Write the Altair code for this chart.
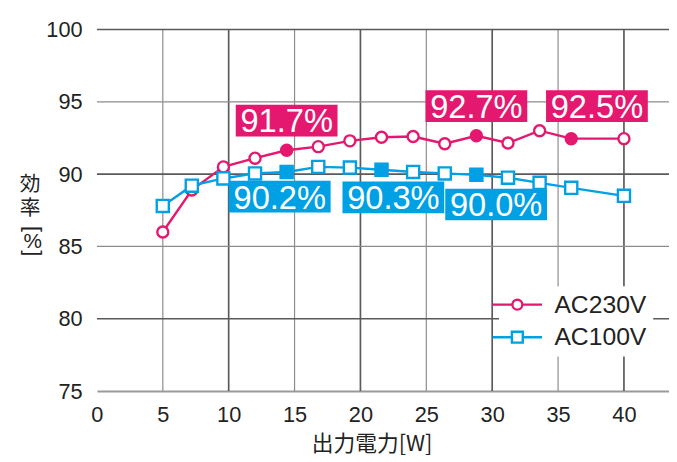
import altair as alt
import pandas as pd

# ---------------- data ----------------
watts = [5, 7.2, 9.6, 12, 14.4, 16.8, 19.2, 21.6, 24, 26.4, 28.8, 31.2, 33.6, 36, 40]
eff_ac230 = [86.0, 88.9, 90.5, 91.1, 91.65, 91.9, 92.3, 92.55, 92.6, 92.1, 92.65, 92.15, 93.0, 92.45, 92.45]
eff_ac100 = [87.8, 89.2, 89.7, 90.05, 90.15, 90.5, 90.45, 90.3, 90.15, 90.05, 89.95, 89.75, 89.4, 89.05, 88.5]
series_names = ["AC230V", "AC100V"]
hl_ac230 = [4, 10, 13]
lbl_ac230 = ["91.7%", "92.7%", "92.5%"]
hl_ac100 = [4, 7, 10]
lbl_ac100 = ["90.2%", "90.3%", "90.0%"]
x_ticks = [0, 5, 10, 15, 20, 25, 30, 35, 40]
y_ticks = [75, 80, 85, 90, 95, 100]
x_grid_major = [10, 20, 30, 40]
x_grid_minor = [5, 15, 25, 35]
y_grid_major = [80, 90, 100]
y_grid_minor = [85, 95]
x_title = "出力電力[W]"
y_title_chars = ["効", "率"]
y_title_unit = ["[", "%", "]"]

# ---------------- styles ----------------
PINK = "#E4186E"
BLUE = "#00A0E4"
LATIN = "Liberation Sans"
CJK = "Noto Sans CJK JP"
CJK_TIGHT = "Liberation Sans, Noto Sans CJK JP"
W, H = 579, 366
XMAX = 43.42
BOX_PATH = "M-1,-0.311 L1,-0.311 L1,0.311 L-1,0.311 Z"
BOX_SIZE = 103 * 103
LEG_CIRCLE = "M-2.5,0 L-0.5,0 M0.5,0 L2.5,0 M-0.5,0 A0.5,0.5,0,1,1,0.5,0 A0.5,0.5,0,1,1,-0.5,0 Z"
LEG_SQUARE = "M-2.5,0 L-0.55,0 M0.55,0 L2.5,0 M-0.55,-0.55 L0.55,-0.55 L0.55,0.55 L-0.55,0.55 Z"
# label box centre offsets (px) from the highlighted point
off_ac230 = [(0, -30), (0, -30), (26, -33)]
off_ac100 = [(-7, 25), (12, 28), (20, 30)]

xscale = alt.Scale(domain=[0, XMAX], nice=False, zero=False)
yscale = alt.Scale(domain=[75, 100], nice=False, zero=False)
cscale = alt.Scale(domain=series_names, range=[PINK, BLUE])

xaxis = alt.Axis(values=x_ticks, grid=False, ticks=False, tickSize=0, domain=True,
                 domainColor="#9a9a9a", domainWidth=2, labelFont=LATIN, labelFontSize=22,
                 labelColor="#222222", labelPadding=14, labelFlush=False, title=x_title,
                 titleFont=CJK, titleFontSize=22, titleFontWeight="normal", titleColor="#222222",
                 titleX=278, titleY=60, titleBaseline="alphabetic", titleAnchor="start",
                 titleAlign="center")
yaxis = alt.Axis(values=y_ticks, grid=False, ticks=False, tickSize=0, domain=False,
                 labelFont=LATIN, labelFontSize=22, labelColor="#222222", labelPadding=15,
                 labelBaseline="middle", title=None)


def X():
    return alt.X("W:Q", scale=xscale, axis=xaxis)


def Y():
    return alt.Y("eff:Q", scale=yscale, axis=yaxis)


rows = []
for s, vals, hls in [(series_names[0], eff_ac230, hl_ac230), (series_names[1], eff_ac100, hl_ac100)]:
    for i, (w, e) in enumerate(zip(watts, vals)):
        rows.append({"W": w, "eff": e, "series": s, "hl": i in hls})
df = pd.DataFrame(rows)
df230 = df[df.series == series_names[0]]
df100 = df[df.series == series_names[1]]

layers = []
# grid lines
for vals, col, wd in [(x_grid_minor, "#8c8c8c", 1.2), (x_grid_major, "#5a5a5a", 1.7)]:
    layers.append(alt.Chart(pd.DataFrame({"W": vals})).mark_rule(color=col, strokeWidth=wd).encode(x=X()))
for vals, col, wd in [(y_grid_minor, "#8c8c8c", 1.2), (y_grid_major, "#5a5a5a", 1.7)]:
    layers.append(alt.Chart(pd.DataFrame({"eff": vals})).mark_rule(color=col, strokeWidth=wd).encode(y=Y()))

# series
for d, col, shape, size in [(df230, PINK, "circle", 125), (df100, BLUE, "square", 150)]:
    layers.append(alt.Chart(d).mark_line(strokeWidth=2.4, color=col).encode(x=X(), y=Y()))
    layers.append(alt.Chart(d).mark_point(shape=shape, size=size, filled=True, stroke=col,
                                          strokeWidth=2.4, opacity=1).encode(
        x=X(), y=Y(), fill=alt.condition("datum.hl", alt.value(col), alt.value("white"))))

# value labels
for vals, hls, lbls, offs, col in [(eff_ac230, hl_ac230, lbl_ac230, off_ac230, PINK),
                                   (eff_ac100, hl_ac100, lbl_ac100, off_ac100, BLUE)]:
    for idx, lbl, (dx, dy) in zip(hls, lbls, offs):
        d = pd.DataFrame({"W": [watts[idx]], "eff": [vals[idx]], "txt": [lbl]})
        layers.append(alt.Chart(d).mark_point(shape=BOX_PATH, size=BOX_SIZE, filled=True, fill=col,
                                              strokeWidth=0, opacity=1, xOffset=dx, yOffset=dy).encode(
            x=X(), y=Y()))
        layers.append(alt.Chart(d).mark_text(font=LATIN, fontSize=33, color="white", align="center",
                                             baseline="middle", xOffset=dx, yOffset=dy + 2).encode(
            x=X(), y=Y(), text="txt:N"))

# legend (drawn by Vega from the colour / shape scales)
leg = alt.Legend(title=None, orient="none", legendX=407, legendY=260, fillColor="white", padding=6,
                 labelFont=LATIN, labelFontSize=25, labelColor="#222222", labelOffset=25,
                 rowPadding=7, symbolSize=400, symbolStrokeWidth=2.4)
layers.append(alt.Chart(df).transform_filter("false").mark_point(filled=False, strokeWidth=2.4, opacity=1).encode(
    color=alt.Color("series:N", scale=cscale, legend=leg),
    shape=alt.Shape("series:N", scale=alt.Scale(domain=series_names, range=[LEG_CIRCLE, LEG_SQUARE]), legend=leg)))

# vertical y-axis title
one = pd.DataFrame({"k": [0]})
layers.append(alt.Chart(one).mark_text(font=CJK_TIGHT, fontSize=21, color="#222222", align="center",
                                       baseline="middle", lineHeight=25).encode(
    x=alt.value(-67.5), y=alt.value(157), text=alt.value(y_title_chars)))
for ch, yy, ang, fs in zip(y_title_unit, [202, 215, 226.5], [90, 0, 90], [22, 21, 22]):
    layers.append(alt.Chart(one).mark_text(font=LATIN, fontSize=fs, color="#222222", align="center",
                                           baseline="middle", angle=ang).encode(
        x=alt.value(-65), y=alt.value(yy), text=alt.value(ch)))

chart = alt.layer(*layers).properties(
    width=W, height=H,
    autosize=alt.AutoSizeParams(type="none"),
    padding={"left": 90, "top": 19, "right": 0, "bottom": 66},
).configure_view(stroke=None)

chart.save("out.html", embed_options={"renderer": "svg", "actions": False})
